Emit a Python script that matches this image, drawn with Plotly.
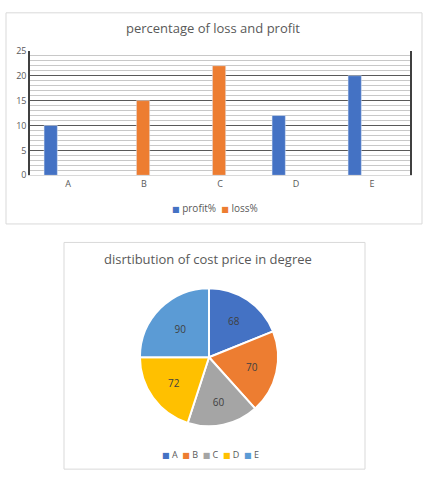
import plotly.graph_objects as go

categories = ["A", "B", "C", "D", "E"]
profit = [10, None, None, 12, 20]
loss = [None, 15, 22, None, None]
bar_series = ["profit%", "loss%"]
pie_labels = ["A", "B", "C", "D", "E"]
pie_values = [68, 70, 60, 72, 90]

W, H = 432, 480
def px(x): return x / W
def py(y): return 1 - y / H

blue = "#4472C4"
orange = "#ED7D31"
bar_colors = [blue, orange]
pie_colors = ["#4472C4", "#ED7D31", "#A5A5A5", "#FFC000", "#5B9BD5"]
txt = "#595959"
font = "Open Sans, DejaVu Sans, sans-serif"

fig = go.Figure()
fig.add_trace(go.Bar(x=categories, y=profit, name=bar_series[0], marker_color=blue,
                     width=0.175, offset=-0.315, showlegend=False))
fig.add_trace(go.Bar(x=categories, y=loss, name=bar_series[1], marker_color=orange,
                     width=0.175, offset=-0.1, showlegend=False))
fig.add_trace(go.Pie(labels=pie_labels, values=pie_values, sort=False, direction="clockwise",
                     rotation=0, marker=dict(colors=pie_colors, line=dict(color="white", width=2)),
                     textinfo="value", textposition="inside", insidetextorientation="horizontal",
                     textfont=dict(size=10, color="#404040", family=font),
                     domain=dict(x=[px(139), px(279)], y=[py(431), py(289)]),
                     showlegend=False, hoverinfo="label+value"))

sq = "<span style='color:{c};font-size:8px'>■</span> {t}"
bar_legend = "  ".join(sq.format(c=c, t=t) for c, t in zip(bar_colors, bar_series))
pie_legend = "  ".join(sq.format(c=c, t=t) for c, t in zip(pie_colors, pie_labels))

fig.update_layout(
    width=W, height=H, autosize=False,
    margin=dict(l=0, r=0, t=0, b=0),
    paper_bgcolor="white", plot_bgcolor="white",
    font=dict(family=font, color=txt, size=10),
    xaxis=dict(domain=[px(30), px(410)], showgrid=False, showline=True, linecolor="#d9d9d9",
               linewidth=1, ticks="", tickfont=dict(size=9, color=txt), fixedrange=True),
    yaxis=dict(domain=[py(173), py(45)], range=[0, 25], dtick=5, showgrid=True,
               gridcolor="#595959", gridwidth=1, showline=True, mirror=True,
               linecolor="#404040", linewidth=1.5, zeroline=False,
               tickfont=dict(size=9, color=txt), ticks="",
               minor=dict(dtick=1, showgrid=True, gridcolor="#c8c8c8", gridwidth=1)),
    shapes=[
        dict(type="rect", xref="paper", yref="paper", x0=px(6), x1=px(422), y0=py(223), y1=py(6),
             line=dict(color="#d9d9d9", width=1), layer="below"),
        dict(type="rect", xref="paper", yref="paper", x0=px(64), x1=px(365), y0=py(475), y1=py(242),
             line=dict(color="#d9d9d9", width=1), layer="below"),
    ],
    annotations=[
        dict(text="percentage of loss and profit", xref="paper", yref="paper", x=px(213), y=py(22),
             showarrow=False, font=dict(size=13, color=txt), xanchor="center", yanchor="middle"),
        dict(text="disrtibution of cost price in degree", xref="paper", yref="paper", x=px(208), y=py(259),
             showarrow=False, font=dict(size=13, color=txt), xanchor="center", yanchor="middle"),
        dict(text=bar_legend, xref="paper", yref="paper", x=px(215), y=py(207),
             showarrow=False, font=dict(size=10, color=txt), xanchor="center", yanchor="middle"),
        dict(text=pie_legend, xref="paper", yref="paper", x=px(210), y=py(460),
             showarrow=False, font=dict(size=9, color=txt), xanchor="center", yanchor="middle"),
    ],
)

fig.write_html("out.html", config={"displayModeBar": False},
               post_script="document.body.style.margin='0';document.body.style.overflow='hidden';")
